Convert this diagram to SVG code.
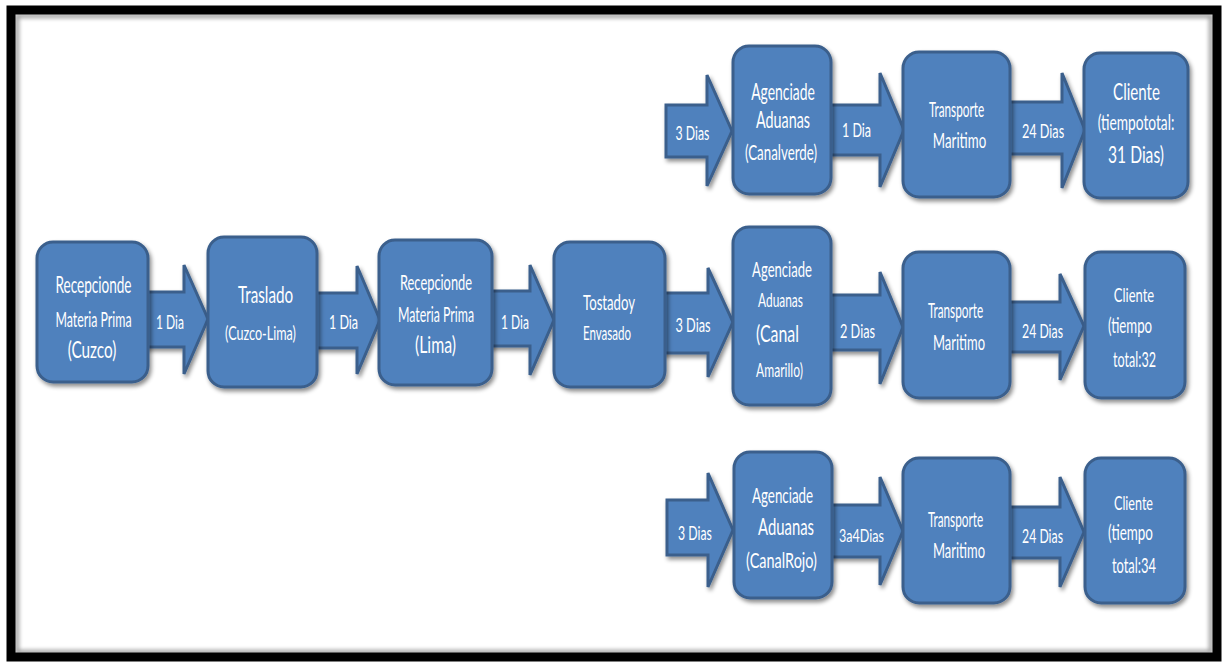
<svg xmlns="http://www.w3.org/2000/svg" width="1225" height="662" viewBox="0 0 1225 662">
  <defs>
    <filter id="shadow" x="-20%" y="-20%" width="140%" height="140%">
      <feDropShadow dx="2" dy="3" stdDeviation="2.2" flood-color="#000" flood-opacity="0.45"/>
    </filter>
    <filter id="soft" x="-5%" y="-5%" width="110%" height="110%">
      <feGaussianBlur stdDeviation="2"/>
    </filter>
    <style>
      .box { fill: #4f81bd; stroke: #3a5f8c; stroke-width: 3; filter: url(#shadow); }
      .arrow { fill: #4f81bd; stroke: #3a5f8c; stroke-width: 3; stroke-linejoin: miter; filter: url(#shadow); }
      text { font-family: Lato, "Liberation Sans", sans-serif; fill: #ffffff; text-anchor: middle; }
      .lbl { font-size: 20px; }
    </style>
  </defs>

  <!-- page background and frame -->
  <rect x="0" y="0" width="1225" height="662" fill="#ffffff"/>
  <rect x="17" y="16" width="1194" height="636" fill="none" stroke="#9a9a9a" stroke-width="4" filter="url(#soft)"/>
  <rect x="11" y="10" width="1206" height="647" fill="none" stroke="#000000" stroke-width="9"/>

  <!-- block-arrow connectors; text is narrowed with a 0.65 horizontal scale -->
  <g id="connectors">
    <polygon class="arrow" points="140,292 184,292 184,265 208,319 184,374 184,347 140,347"/>
    <polygon class="arrow" points="310,293 357,293 357,266 380,320 357,374 357,348 310,348"/>
    <polygon class="arrow" points="485,291 530,291 530,265 554,320 530,375 530,346 485,346"/>
    <polygon class="arrow" points="658,293 708,293 708,268 733,322 708,377 708,353 658,353"/>

    <polygon class="arrow" points="666,105 707,105 707,75 732,131 707,186 707,157 666,157"/>
    <polygon class="arrow" points="825,105 880,105 880,73 904,130 880,187 880,155 825,155"/>
    <polygon class="arrow" points="1002,102 1062,102 1062,73 1085,130 1062,188 1062,154 1002,154"/>

    <polygon class="arrow" points="825,295 880,295 880,272 903,327 880,384 880,350 825,350"/>
    <polygon class="arrow" points="1002,302 1060,302 1060,274 1084,326 1060,380 1060,352 1002,352"/>

    <polygon class="arrow" points="667,500 708,500 708,473 733,530 708,587 708,555 667,555"/>
    <polygon class="arrow" points="825,505 880,505 880,477 903,531 880,585 880,557 825,557"/>
    <polygon class="arrow" points="1002,507 1060,507 1060,477 1084,532 1060,587 1060,558 1002,558"/>

    <text class="lbl" transform="matrix(0.65 0 0 1 170 329)" textLength="43" lengthAdjust="spacingAndGlyphs">1 Dia</text>
    <text class="lbl" transform="matrix(0.65 0 0 1 343.5 329)" textLength="45" lengthAdjust="spacingAndGlyphs">1 Dia</text>
    <text class="lbl" transform="matrix(0.65 0 0 1 515 329)" textLength="43" lengthAdjust="spacingAndGlyphs">1 Dia</text>
    <text class="lbl" transform="matrix(0.65 0 0 1 693 332)" textLength="54" lengthAdjust="spacingAndGlyphs">3 Dias</text>

    <text class="lbl" transform="matrix(0.65 0 0 1 692.5 140)" textLength="52" lengthAdjust="spacingAndGlyphs">3 Dias</text>
    <text class="lbl" transform="matrix(0.65 0 0 1 856.5 137)" textLength="45" lengthAdjust="spacingAndGlyphs">1 Dia</text>
    <text class="lbl" transform="matrix(0.65 0 0 1 1043 138)" textLength="65" lengthAdjust="spacingAndGlyphs">24 Dias</text>

    <text class="lbl" transform="matrix(0.65 0 0 1 857.5 338)" textLength="54" lengthAdjust="spacingAndGlyphs">2 Dias</text>
    <text class="lbl" transform="matrix(0.65 0 0 1 1042.5 338)" textLength="63" lengthAdjust="spacingAndGlyphs">24 Dias</text>

    <text class="lbl" transform="matrix(0.65 0 0 1 695 540)" textLength="52" lengthAdjust="spacingAndGlyphs">3 Dias</text>
    <text font-size="18" transform="matrix(0.65 0 0 1 861.5 542)" textLength="69" lengthAdjust="spacingAndGlyphs">3a4Dias</text>
    <text class="lbl" transform="matrix(0.65 0 0 1 1042.5 543)" textLength="63" lengthAdjust="spacingAndGlyphs">24 Dias</text>
  </g>

  <!-- main chain -->
  <g id="recepcion-cuzco">
    <rect class="box" x="37" y="242" width="111" height="140" rx="16"/>
    <text transform="matrix(0.65 0 0 1 93.5 293)" font-size="23" textLength="117" lengthAdjust="spacingAndGlyphs">Recepcionde</text>
    <text transform="matrix(0.65 0 0 1 93.5 327)" font-size="21" textLength="117" lengthAdjust="spacingAndGlyphs">Materia Prima</text>
    <text transform="matrix(0.65 0 0 1 92 358)" font-size="24" textLength="75" lengthAdjust="spacingAndGlyphs">(Cuzco)</text>
  </g>
  <g id="traslado">
    <rect class="box" x="208" y="237" width="109" height="150" rx="16"/>
    <text transform="matrix(0.65 0 0 1 265.5 303)" font-size="24" textLength="85" lengthAdjust="spacingAndGlyphs">Traslado</text>
    <text transform="matrix(0.65 0 0 1 260.5 340)" font-size="19.5" textLength="109" lengthAdjust="spacingAndGlyphs">(Cuzco-Lima)</text>
  </g>
  <g id="recepcion-lima">
    <rect class="box" x="379" y="240" width="113" height="145" rx="16"/>
    <text transform="matrix(0.65 0 0 1 436 290)" font-size="22" textLength="111" lengthAdjust="spacingAndGlyphs">Recepcionde</text>
    <text transform="matrix(0.65 0 0 1 436 322)" font-size="21" textLength="117" lengthAdjust="spacingAndGlyphs">Materia Prima</text>
    <text transform="matrix(0.65 0 0 1 435.5 353)" font-size="23" textLength="63" lengthAdjust="spacingAndGlyphs">(Lima)</text>
  </g>
  <g id="tostado">
    <rect class="box" x="554" y="242" width="111" height="145" rx="16"/>
    <text transform="matrix(0.65 0 0 1 609 310)" font-size="21" textLength="80" lengthAdjust="spacingAndGlyphs">Tostadoy</text>
    <text transform="matrix(0.65 0 0 1 607 340)" font-size="19.5" textLength="74" lengthAdjust="spacingAndGlyphs">Envasado</text>
  </g>

  <!-- green channel -->
  <g id="aduana-verde">
    <rect class="box" x="733" y="46" width="98" height="148" rx="16"/>
    <text transform="matrix(0.65 0 0 1 783 100)" font-size="23" textLength="98" lengthAdjust="spacingAndGlyphs">Agenciade</text>
    <text transform="matrix(0.65 0 0 1 783 128)" font-size="23" textLength="83" lengthAdjust="spacingAndGlyphs">Aduanas</text>
    <text transform="matrix(0.65 0 0 1 781 160)" font-size="22" textLength="111" lengthAdjust="spacingAndGlyphs">(Canalverde)</text>
  </g>
  <g id="transporte-verde">
    <rect class="box" x="903" y="52" width="107" height="145" rx="16"/>
    <text transform="matrix(0.65 0 0 1 956.5 117)" font-size="20.5" textLength="85" lengthAdjust="spacingAndGlyphs">Transporte</text>
    <text transform="matrix(0.65 0 0 1 959.5 148)" font-size="22" textLength="82" lengthAdjust="spacingAndGlyphs">Maritimo</text>
  </g>
  <g id="cliente-verde">
    <rect class="box" x="1084" y="53" width="104" height="145" rx="16"/>
    <text transform="matrix(0.65 0 0 1 1136.5 100)" font-size="23" textLength="72" lengthAdjust="spacingAndGlyphs">Cliente</text>
    <text transform="matrix(0.65 0 0 1 1136 130)" font-size="22" textLength="118" lengthAdjust="spacingAndGlyphs">(tiempototal:</text>
    <text transform="matrix(0.65 0 0 1 1136 163)" font-size="23" textLength="86" lengthAdjust="spacingAndGlyphs">31 Dias)</text>
  </g>

  <!-- yellow channel -->
  <g id="aduana-amarillo">
    <rect class="box" x="733" y="227" width="98" height="178" rx="16"/>
    <text transform="matrix(0.65 0 0 1 782 277)" font-size="22" textLength="92" lengthAdjust="spacingAndGlyphs">Agenciade</text>
    <text transform="matrix(0.65 0 0 1 780.5 307)" font-size="19.5" textLength="69" lengthAdjust="spacingAndGlyphs">Aduanas</text>
    <text transform="matrix(0.65 0 0 1 777.5 342)" font-size="24" textLength="66" lengthAdjust="spacingAndGlyphs">(Canal</text>
    <text transform="matrix(0.65 0 0 1 779.5 377)" font-size="18.5" textLength="72" lengthAdjust="spacingAndGlyphs">Amarillo)</text>
  </g>
  <g id="transporte-amarillo">
    <rect class="box" x="903" y="252" width="107" height="146" rx="16"/>
    <text transform="matrix(0.65 0 0 1 955.5 318)" font-size="20.5" textLength="85" lengthAdjust="spacingAndGlyphs">Transporte</text>
    <text transform="matrix(0.65 0 0 1 959 350)" font-size="22" textLength="80" lengthAdjust="spacingAndGlyphs">Maritimo</text>
  </g>
  <g id="cliente-amarillo">
    <rect class="box" x="1085" y="252" width="100" height="146" rx="16"/>
    <text transform="matrix(0.65 0 0 1 1134 302)" font-size="19.5" textLength="62" lengthAdjust="spacingAndGlyphs">Cliente</text>
    <text transform="matrix(0.65 0 0 1 1130 333)" font-size="21" textLength="68" lengthAdjust="spacingAndGlyphs">(tiempo</text>
    <text transform="matrix(0.65 0 0 1 1134.5 367)" font-size="21" textLength="66" lengthAdjust="spacingAndGlyphs">total:32</text>
  </g>

  <!-- red channel -->
  <g id="aduana-rojo">
    <rect class="box" x="734" y="452" width="98" height="146" rx="16"/>
    <text transform="matrix(0.65 0 0 1 782.5 503)" font-size="22" textLength="94" lengthAdjust="spacingAndGlyphs">Agenciade</text>
    <text transform="matrix(0.65 0 0 1 786 535)" font-size="23" textLength="86" lengthAdjust="spacingAndGlyphs">Aduanas</text>
    <text transform="matrix(0.65 0 0 1 781.5 568)" font-size="22" textLength="109" lengthAdjust="spacingAndGlyphs">(CanalRojo)</text>
  </g>
  <g id="transporte-rojo">
    <rect class="box" x="903" y="458" width="107" height="145" rx="16"/>
    <text transform="matrix(0.65 0 0 1 955.5 527)" font-size="20.5" textLength="85" lengthAdjust="spacingAndGlyphs">Transporte</text>
    <text transform="matrix(0.65 0 0 1 959 558)" font-size="22" textLength="80" lengthAdjust="spacingAndGlyphs">Maritimo</text>
  </g>
  <g id="cliente-rojo">
    <rect class="box" x="1085" y="458" width="100" height="145" rx="16"/>
    <text transform="matrix(0.65 0 0 1 1133.5 510)" font-size="19.5" textLength="60" lengthAdjust="spacingAndGlyphs">Cliente</text>
    <text transform="matrix(0.65 0 0 1 1130.5 540)" font-size="21" textLength="69" lengthAdjust="spacingAndGlyphs">(tiempo</text>
    <text transform="matrix(0.65 0 0 1 1134 573)" font-size="21" textLength="68" lengthAdjust="spacingAndGlyphs">total:34</text>
  </g>
</svg>
